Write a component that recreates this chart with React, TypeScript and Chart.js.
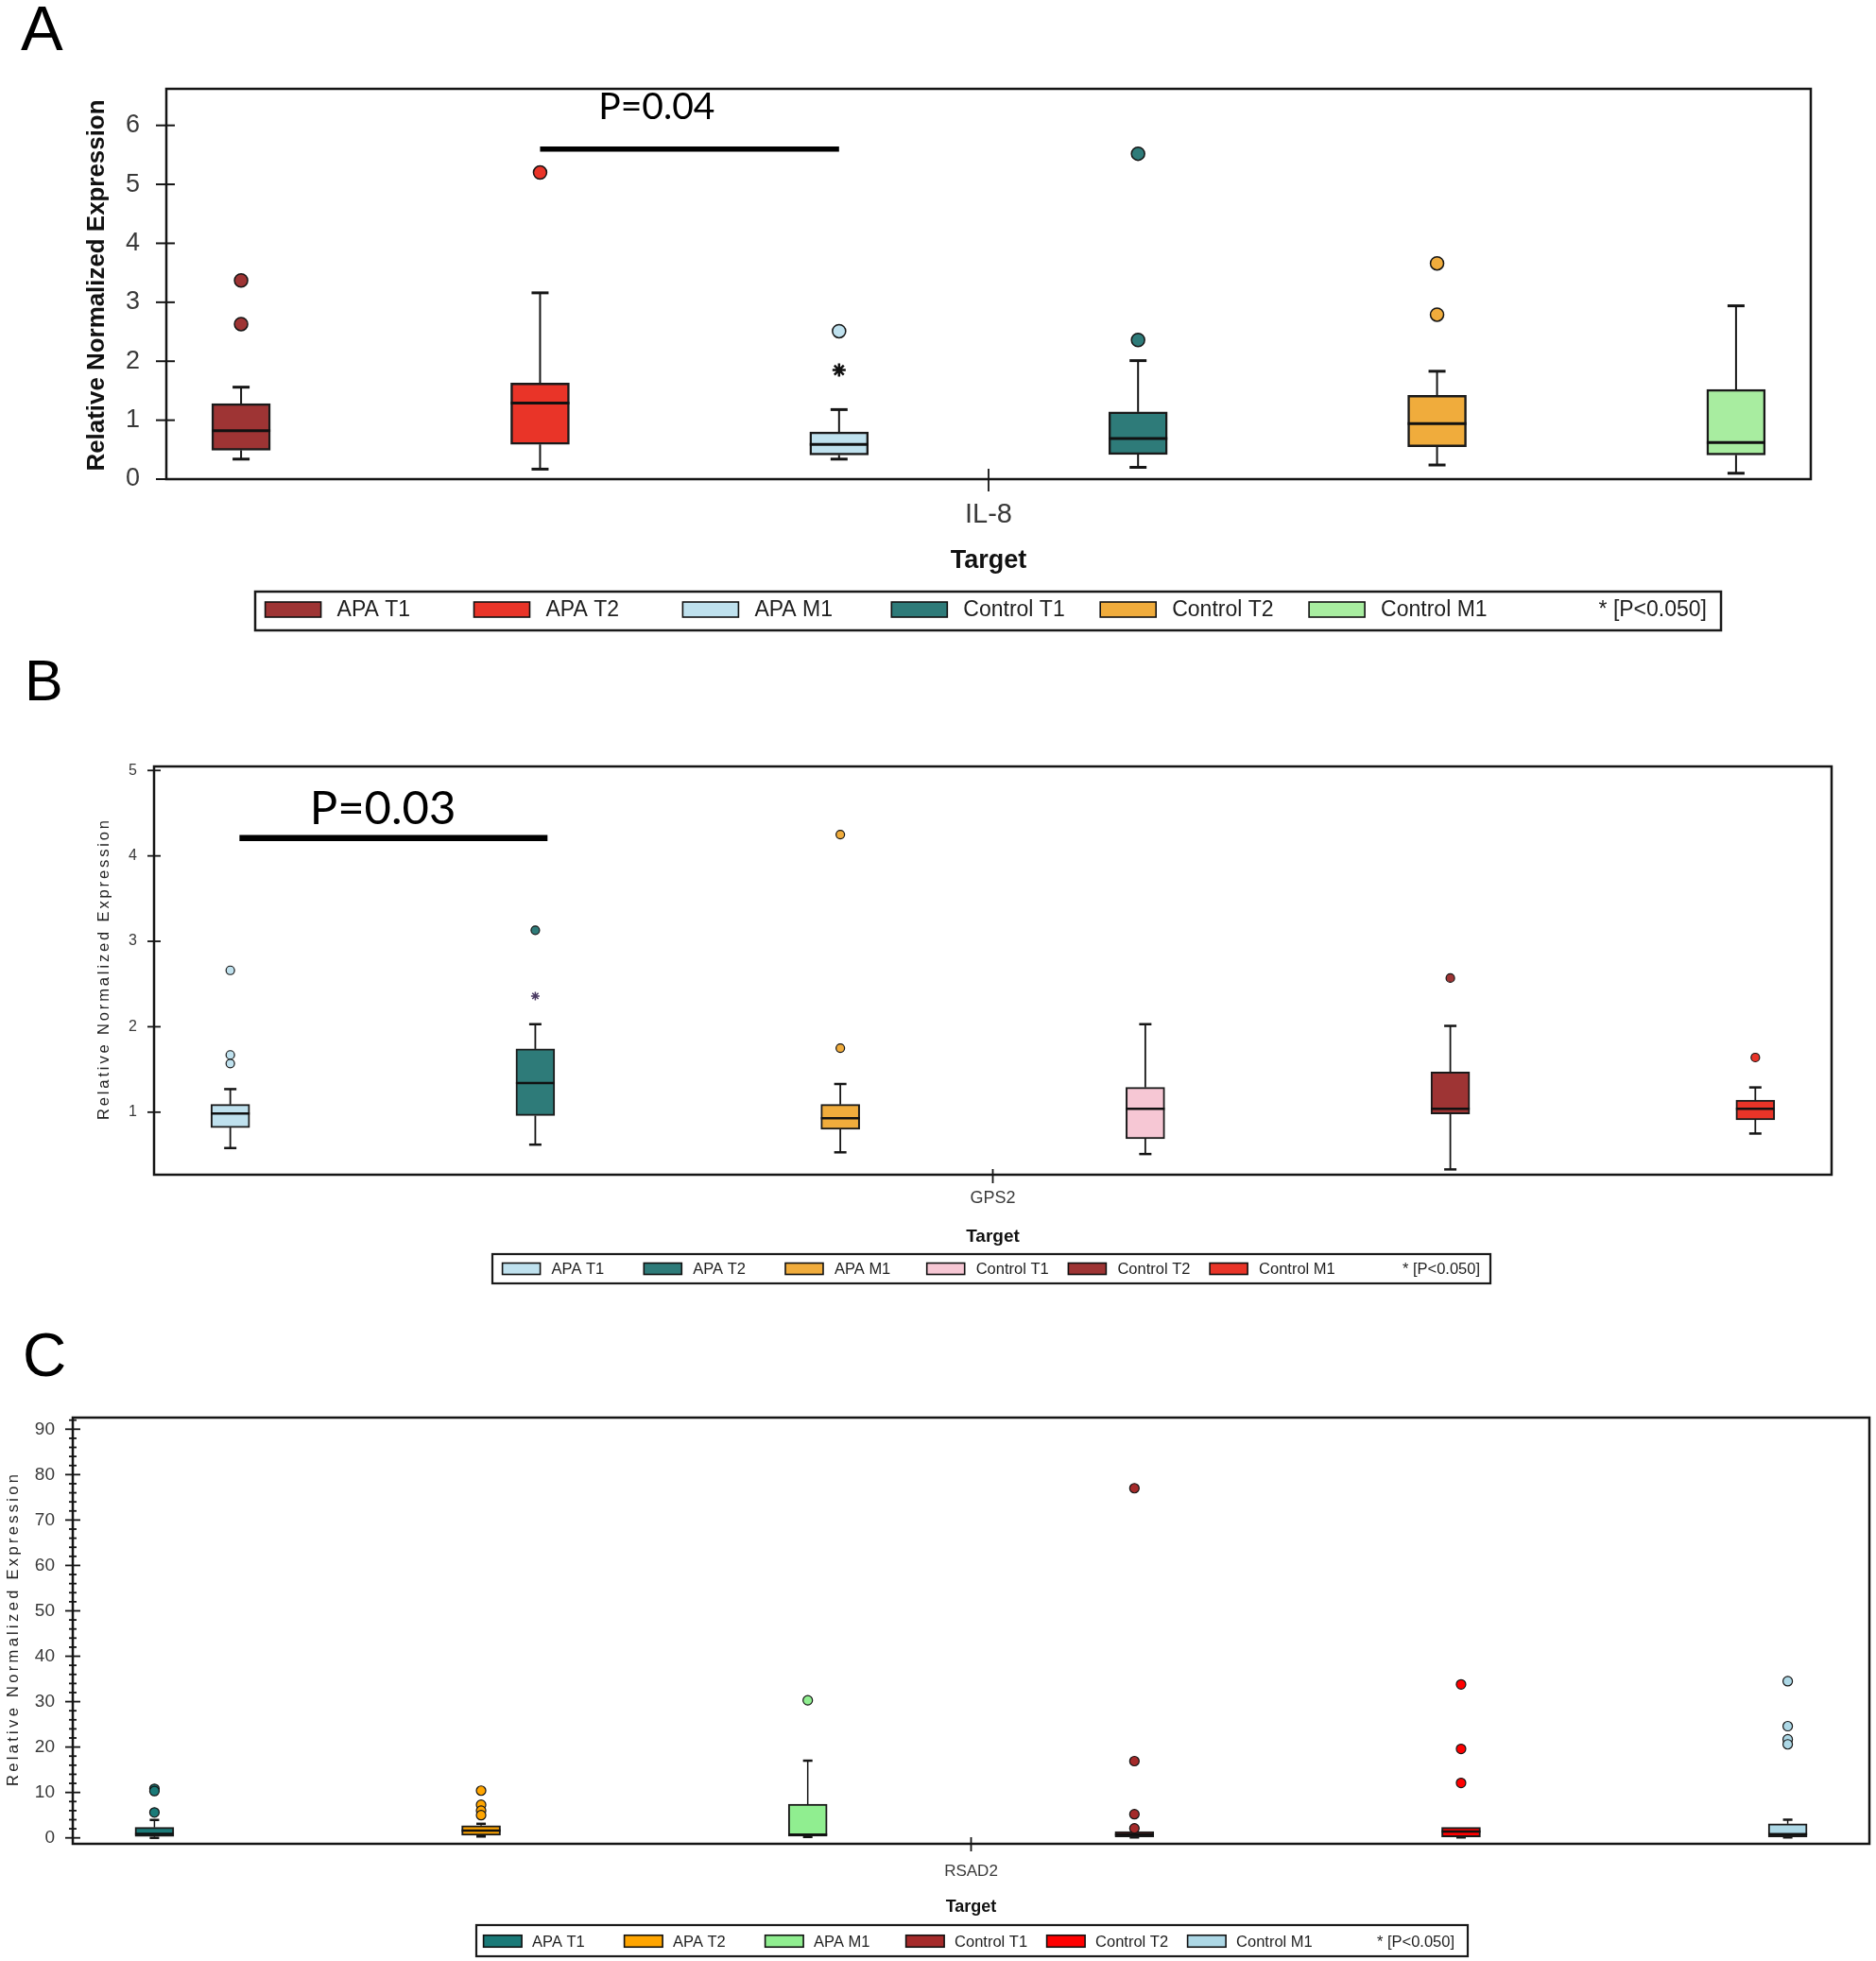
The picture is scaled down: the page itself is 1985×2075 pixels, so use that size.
import React, { useEffect, useRef } from 'react';
import { Chart, registerables } from 'chart.js';

Chart.register(...registerables);

const SANS = "'Liberation Sans', Arial, Helvetica, sans-serif";
const HUMANIST = "Lato, 'Open Sans', sans-serif";
const PAGE_W = 1985;
const PAGE_H = 2075;

Chart.defaults.font.family = SANS;

const LEGEND_NOTE = '* [P<0.050]';
const X_TITLE = 'Target';
const Y_TITLE = 'Relative Normalized Expression';

// ---------- Panel A: IL-8 ----------
const groupsA = ['APA T1', 'APA T2', 'APA M1', 'Control T1', 'Control T2', 'Control M1'];
const colorsA = ['#9E3434', '#E93428', '#BFE1EE', '#2E7B79', '#F0AC3C', '#A8EDA0'];
const q1A = [0.49, 0.59, 0.41, 0.42, 0.55, 0.41];
const medA = [0.82, 1.29, 0.59, 0.69, 0.94, 0.62];
const q3A = [1.28, 1.63, 0.8, 1.14, 1.42, 1.52];
const lowA = [0.34, 0.17, 0.34, 0.2, 0.24, 0.1];
const highA = [1.56, 3.16, 1.18, 2.01, 1.83, 2.94];
const outA = [[3.37, 2.63], [5.2], [2.51], [5.52, 2.36], [3.66, 2.79], []];
const starA = [[], [], [1.85], [], [], []];
const yTicksA = [0, 1, 2, 3, 4, 5, 6];
const yLabelsA = [0, 1, 2, 3, 4, 5, 6];

// ---------- Panel B: GPS2 ----------
const groupsB = ['APA T1', 'APA T2', 'APA M1', 'Control T1', 'Control T2', 'Control M1'];
const colorsB = ['#BFE1EE', '#2E7B79', '#F0AC3C', '#F6C7D4', '#9E3434', '#E93428'];
const q1B = [0.82, 0.96, 0.8, 0.69, 0.98, 0.91];
const medB = [0.985, 1.34, 0.93, 1.04, 1.04, 1.04];
const q3B = [1.09, 1.74, 1.09, 1.29, 1.47, 1.14];
const lowB = [0.58, 0.62, 0.53, 0.51, 0.33, 0.75];
const highB = [1.27, 2.03, 1.33, 2.03, 2.01, 1.29];
const outB = [[2.66, 1.67, 1.57], [3.13], [4.25, 1.75], [], [2.57], [1.64]];
const starB = [[], [2.36], [], [], [], []];
const yTicksB = [1, 2, 3, 4, 5];
const yLabelsB = [1, 2, 3, 4, 5];

// ---------- Panel C: RSAD2 ----------
const groupsC = ['APA T1', 'APA T2', 'APA M1', 'Control T1', 'Control T2', 'Control M1'];
const colorsC = ['#1A7A78', '#FFA500', '#90EE90', '#A52A2A', '#FF0000', '#ADD8E6'];
const q1C = [0.3, 0.6, 0.35, 0.2, 0.2, 0.2];
const medC = [0.9, 1.6, 0.7, 0.7, 1.4, 0.8];
const q3C = [2.3, 2.7, 7.4, 1.4, 2.3, 3.1];
const lowC = [0.0, 0.3, 0.2, 0.1, 0.1, 0.1];
const highC = [3.95, 3.1, 17.0, 1.4, 2.3, 4.0];
const outC = [[10.8, 10.3, 5.6], [10.4, 7.3, 6.0, 5.0], [30.3], [77.0, 16.9, 5.2, 2.1], [33.8, 19.6, 12.1], [34.5, 24.6, 21.7, 20.6]];
const starC = [[], [], [], [], [], []];
const yMinorStepC = 2;
const yTicksC = Array.from({ length: 47 }, (_, i) => i * yMinorStepC);
const yLabelsC = [0, 10, 20, 30, 40, 50, 60, 70, 80, 90];

type Stats = {
  groups: string[]; colors: string[];
  q1: number[]; med: number[]; q3: number[]; low: number[]; high: number[];
  out: number[][]; star: number[][];
};

type Spec = {
  letter: string; target: string; stats: Stats;
  yMin: number; yMax: number; yTicks: number[]; yLabels: number[];
  p?: { text: string; from: number; to: number; y: number; tx: number; ty: number; size: number; lw: number };
  top: number; height: number;
  area: { l: number; r: number; t: number; b: number };
  tickFont: number; tickPad: number; tickMajor: [number, number]; tickMinor: [number, number]; tickLW: number;
  xTick: [number, number];
  xLabel: { y: number; size: number };
  xTitle: { y: number; size: number };
  yTitle: { x: number; y: number; len: number; size: number; bold: boolean };
  legend: { x0: number; y0: number; x1: number; y1: number; sw0: number; step: number; sw: number; sh: number; cy: number; textOff: number; size: number; end: number; lw: number };
  letterPos: { x: number; y: number; size: number };
  box: { w: number; cap: number; medLW: number; whiskLW: number; capLW: number; lw: number; ptR: number; ptLW: number; starR: number; starLW: number; starColor: string };
  frameLW: number;
};

const X_PAD = 0.25;

const specA: Spec = {
  letter: 'A', target: 'IL-8',
  stats: { groups: groupsA, colors: colorsA, q1: q1A, med: medA, q3: q3A, low: lowA, high: highA, out: outA, star: starA },
  yMin: 0, yMax: 6.62, yTicks: yTicksA, yLabels: yLabelsA,
  p: { text: 'P=0.04', from: 1, to: 2, y: 5.6, tx: 1.39, ty: 6.1, size: 39, lw: 5.5 },
  top: 0, height: 690,
  area: { l: 176, r: 1916, t: 94, b: 507 },
  tickFont: 27, tickPad: 28, tickMajor: [11, 9], tickMinor: [11, 9], tickLW: 2,
  xTick: [11, 13],
  xLabel: { y: 545, size: 29 },
  xTitle: { y: 594, size: 27 },
  yTitle: { x: 103, y: 302, len: 393, size: 25, bold: true },
  legend: { x0: 270, y0: 626, x1: 1821, y1: 667, sw0: 280.6, step: 220.9, sw: 59, sh: 16, cy: 645, textOff: 76, size: 23, end: 1806, lw: 2.5 },
  letterPos: { x: 22, y: 53, size: 67 },
  box: { w: 62, cap: 18, medLW: 3, whiskLW: 2, capLW: 3, lw: 2.5, ptR: 7, ptLW: 1.5, starR: 7, starLW: 2.5, starColor: '#111111' },
  frameLW: 2.5,
};

const specB: Spec = {
  letter: 'B', target: 'GPS2',
  stats: { groups: groupsB, colors: colorsB, q1: q1B, med: medB, q3: q3B, low: lowB, high: highB, out: outB, star: starB },
  yMin: 0.268, yMax: 5.047, yTicks: yTicksB, yLabels: yLabelsB,
  p: { text: 'P=0.03', from: 0.03, to: 1.04, y: 4.21, tx: 0.5, ty: 4.37, size: 49, lw: 6.5 },
  top: 690, height: 690,
  area: { l: 163, r: 1938, t: 121, b: 553 },
  tickFont: 16, tickPad: 18, tickMajor: [7, 7], tickMinor: [7, 7], tickLW: 1.8,
  xTick: [6, 9],
  xLabel: { y: 578, size: 18 },
  xTitle: { y: 619, size: 19 },
  yTitle: { x: 110.5, y: 336.5, len: 317, size: 16.5, bold: false },
  legend: { x0: 521, y0: 637, x1: 1577, y1: 668, sw0: 531.6, step: 149.7, sw: 40, sh: 12, cy: 652.5, textOff: 52, size: 16.5, end: 1566, lw: 2.2 },
  letterPos: { x: 26, y: 51, size: 61 },
  box: { w: 41, cap: 13, medLW: 2.5, whiskLW: 1.8, capLW: 2.5, lw: 2, ptR: 4.5, ptLW: 1.2, starR: 4.5, starLW: 1.5, starColor: '#4B3B63' },
  frameLW: 2.5,
};

const specC: Spec = {
  letter: 'C', target: 'RSAD2',
  stats: { groups: groupsC, colors: colorsC, q1: q1C, med: medC, q3: q3C, low: lowC, high: highC, out: outC, star: starC },
  yMin: -1.31, yMax: 92.56, yTicks: yTicksC, yLabels: yLabelsC,
  top: 1380, height: 695,
  area: { l: 77, r: 1978, t: 120, b: 571 },
  tickFont: 19, tickPad: 19, tickMajor: [8, 8], tickMinor: [4, 4], tickLW: 1.8,
  xTick: [7, 8],
  xLabel: { y: 600, size: 17 },
  xTitle: { y: 638, size: 18 },
  yTitle: { x: 14.5, y: 345, len: 330, size: 16.5, bold: false },
  legend: { x0: 504, y0: 657, x1: 1553, y1: 690, sw0: 511.6, step: 149, sw: 40.5, sh: 12.5, cy: 674, textOff: 51.5, size: 16.5, end: 1539, lw: 2.2 },
  letterPos: { x: 24, y: 76, size: 64 },
  box: { w: 41, cap: 10, medLW: 2.5, whiskLW: 1.5, capLW: 2.5, lw: 2, ptR: 5, ptLW: 1.2, starR: 5, starLW: 1.5, starColor: '#111111' },
  frameLW: 2.5,
};

// Text scaled to span a given length (used for the rotated bold axis title).
function drawFitted(ctx: CanvasRenderingContext2D, text: string, cx: number, cy: number, font: string, len: number, rot: number, color: string) {
  ctx.save();
  ctx.font = font;
  const w = ctx.measureText(text).width;
  ctx.translate(cx, cy);
  ctx.rotate(rot);
  ctx.scale(len / w, 1);
  ctx.textAlign = 'center';
  ctx.textBaseline = 'middle';
  ctx.fillStyle = color;
  ctx.fillText(text, 0, 0);
  ctx.restore();
}

// Letter-spaced text spread over a given length.
function drawSpaced(ctx: CanvasRenderingContext2D, text: string, cx: number, cy: number, font: string, len: number, rot: number, color: string) {
  ctx.save();
  ctx.font = font;
  const chars = Array.from(text);
  const ws = chars.map((c) => ctx.measureText(c).width);
  const total = ws.reduce((a, b) => a + b, 0);
  const gap = (len - total) / (chars.length - 1);
  ctx.translate(cx, cy);
  ctx.rotate(rot);
  ctx.textAlign = 'left';
  ctx.textBaseline = 'middle';
  ctx.fillStyle = color;
  let x = -len / 2;
  chars.forEach((c, i) => {
    ctx.fillText(c, x, 0);
    x += ws[i] + gap;
  });
  ctx.restore();
}

function decor(s: Spec) {
  const st = s.stats;
  return {
    id: 'boxDecor' + s.letter,
    beforeDatasetsDraw(chart: any) {
      const { ctx } = chart;
      const xs = chart.scales.x;
      const ys = chart.scales.y;
      ctx.save();
      ctx.strokeStyle = '#151515';
      st.groups.forEach((_, i) => {
        const px = xs.getPixelForValue(i);
        const seg = (from: number, to: number) => {
          if (to === from) return;
          const a = ys.getPixelForValue(from);
          const b = ys.getPixelForValue(to);
          ctx.lineWidth = s.box.whiskLW;
          ctx.beginPath();
          ctx.moveTo(px, a);
          ctx.lineTo(px, b);
          ctx.stroke();
          ctx.lineWidth = s.box.capLW;
          ctx.beginPath();
          ctx.moveTo(px - s.box.cap / 2, b);
          ctx.lineTo(px + s.box.cap / 2, b);
          ctx.stroke();
        };
        seg(st.q3[i], st.high[i]);
        seg(st.q1[i], st.low[i]);
      });
      ctx.restore();
    },
    afterDatasetDraw(chart: any, args: any) {
      if (args.meta.type !== 'bar') return;
      const { ctx } = chart;
      const xs = chart.scales.x;
      const ys = chart.scales.y;
      ctx.save();
      ctx.strokeStyle = '#111111';
      ctx.lineWidth = s.box.medLW;
      st.med.forEach((m, i) => {
        const px = xs.getPixelForValue(i);
        const py = ys.getPixelForValue(m);
        ctx.beginPath();
        ctx.moveTo(px - s.box.w / 2, py);
        ctx.lineTo(px + s.box.w / 2, py);
        ctx.stroke();
      });
      ctx.restore();
    },
    afterDraw(chart: any) {
      const { ctx, chartArea: ca } = chart;
      const xs = chart.scales.x;
      const ys = chart.scales.y;
      ctx.save();
      // frame
      ctx.strokeStyle = '#151515';
      ctx.lineWidth = s.frameLW;
      ctx.strokeRect(ca.left, ca.top, ca.right - ca.left, ca.bottom - ca.top);
      // y tick marks across the axis
      ctx.lineWidth = s.tickLW;
      ys.ticks.forEach((t: any) => {
        const py = ys.getPixelForValue(t.value);
        const major = s.yLabels.includes(t.value);
        const [o, inn] = major ? s.tickMajor : s.tickMinor;
        ctx.beginPath();
        ctx.moveTo(ca.left - o, py);
        ctx.lineTo(ca.left + inn, py);
        ctx.stroke();
      });
      // single category tick
      const cx = xs.getPixelForValue((st.groups.length - 1) / 2);
      ctx.lineWidth = 1.8;
      ctx.beginPath();
      ctx.moveTo(cx, ca.bottom - s.xTick[0]);
      ctx.lineTo(cx, ca.bottom + s.xTick[1]);
      ctx.stroke();

      // category label and axis titles
      ctx.textAlign = 'center';
      ctx.textBaseline = 'middle';
      ctx.fillStyle = '#3a3a3a';
      ctx.font = `${s.xLabel.size}px ${SANS}`;
      ctx.fillText(s.target, cx, s.xLabel.y);
      ctx.fillStyle = '#111111';
      ctx.font = `bold ${s.xTitle.size}px ${SANS}`;
      ctx.fillText(X_TITLE, cx, s.xTitle.y);

      if (s.yTitle.bold) {
        drawFitted(ctx, Y_TITLE, s.yTitle.x, s.yTitle.y, `bold ${s.yTitle.size}px ${SANS}`, s.yTitle.len, -Math.PI / 2, '#111111');
      } else {
        drawSpaced(ctx, Y_TITLE, s.yTitle.x, s.yTitle.y, `${s.yTitle.size}px ${SANS}`, s.yTitle.len, -Math.PI / 2, '#222222');
      }

      // legend
      const L = s.legend;
      ctx.fillStyle = '#ffffff';
      ctx.fillRect(L.x0, L.y0, L.x1 - L.x0, L.y1 - L.y0);
      ctx.strokeStyle = '#1a1a1a';
      ctx.lineWidth = L.lw;
      ctx.strokeRect(L.x0, L.y0, L.x1 - L.x0, L.y1 - L.y0);
      ctx.font = `${L.size}px ${SANS}`;
      ctx.textBaseline = 'middle';
      st.groups.forEach((g, i) => {
        const sx = L.sw0 + i * L.step;
        ctx.fillStyle = st.colors[i];
        ctx.fillRect(sx, L.cy - L.sh / 2, L.sw, L.sh);
        ctx.strokeStyle = '#111111';
        ctx.lineWidth = 1.6;
        ctx.strokeRect(sx, L.cy - L.sh / 2, L.sw, L.sh);
        ctx.fillStyle = '#1e1e1e';
        ctx.textAlign = 'left';
        ctx.fillText(g, sx + L.textOff, L.cy + 1);
      });
      ctx.textAlign = 'right';
      ctx.fillText(LEGEND_NOTE, L.end, L.cy + 1);

      // significance bracket
      if (s.p) {
        const p = s.p;
        const y = ys.getPixelForValue(p.y);
        ctx.strokeStyle = '#000000';
        ctx.lineWidth = p.lw;
        ctx.beginPath();
        ctx.moveTo(xs.getPixelForValue(p.from), y);
        ctx.lineTo(xs.getPixelForValue(p.to), y);
        ctx.stroke();
        ctx.fillStyle = '#000000';
        ctx.font = `${p.size}px ${HUMANIST}`;
        ctx.textAlign = 'center';
        ctx.textBaseline = 'alphabetic';
        ctx.fillText(p.text, xs.getPixelForValue(p.tx), ys.getPixelForValue(p.ty));
      }

      // panel letter
      ctx.fillStyle = '#000000';
      ctx.font = `${s.letterPos.size}px ${SANS}`;
      ctx.textAlign = 'left';
      ctx.textBaseline = 'alphabetic';
      ctx.fillText(s.letter, s.letterPos.x, s.letterPos.y);
      ctx.restore();
    },
  };
}

function BoxPanel({ spec }: { spec: Spec }) {
  const ref = useRef<HTMLCanvasElement>(null);
  useEffect(() => {
    const s = spec;
    const st = s.stats;
    const n = st.groups.length;
    const boxes = st.q1.map((q, i) => ({ x: i, y: [q, st.q3[i]] }));
    const outPts = st.out.flatMap((vals, i) => vals.map((v) => ({ x: i, y: v })));
    const outCols = st.out.flatMap((vals, i) => vals.map(() => st.colors[i]));
    const starPts = st.star.flatMap((vals, i) => vals.map((v) => ({ x: i, y: v })));
    const H = s.height;
    const chart = new Chart(ref.current as HTMLCanvasElement, {
      type: 'bar',
      data: {
        datasets: [
          {
            type: 'scatter', data: starPts, pointStyle: 'star',
            pointRadius: s.box.starR, pointBorderWidth: s.box.starLW,
            pointBorderColor: s.box.starColor, pointBackgroundColor: s.box.starColor,
          } as any,
          {
            type: 'scatter', data: outPts, pointStyle: 'circle',
            pointRadius: s.box.ptR, pointBorderWidth: s.box.ptLW,
            pointBorderColor: '#151515', pointBackgroundColor: outCols,
          } as any,
          {
            type: 'bar', data: boxes, backgroundColor: st.colors,
            borderColor: '#1a1a1a', borderWidth: s.box.lw, borderSkipped: false,
            barThickness: s.box.w,
          } as any,
        ],
      },
      options: {
        responsive: false,
        animation: false,
        events: [],
        layout: { padding: { left: 0, top: s.area.t, right: PAGE_W - s.area.r, bottom: H - s.area.b } },
        plugins: { legend: { display: false }, tooltip: { enabled: false } },
        scales: {
          x: { type: 'linear', display: false, min: -X_PAD, max: n - 1 + X_PAD, offset: false },
          y: {
            type: 'linear', min: s.yMin, max: s.yMax, bounds: 'data',
            afterFit: (sc: any) => { sc.width = s.area.l; },
            afterBuildTicks: (sc: any) => { sc.ticks = s.yTicks.map((v) => ({ value: v })); },
            grid: { display: false, drawTicks: false },
            border: { display: false },
            ticks: {
              autoSkip: false, padding: s.tickPad, color: '#3a3a3a',
              font: { family: SANS, size: s.tickFont },
              callback: (v: any) => (s.yLabels.includes(Number(v)) ? String(v) : ''),
            },
          },
        },
      } as any,
      plugins: [decor(s) as any],
    });
    return () => chart.destroy();
  }, [spec]);
  return (
    <canvas
      ref={ref}
      width={PAGE_W}
      height={spec.height}
      style={{ position: 'absolute', left: 0, top: spec.top, width: PAGE_W, height: spec.height, display: 'block' }}
    />
  );
}

export default function App() {
  return (
    <div style={{ position: 'absolute', left: 0, top: 0, width: PAGE_W, height: PAGE_H, background: '#ffffff', overflow: 'hidden' }}>
      <BoxPanel spec={specA} />
      <BoxPanel spec={specB} />
      <BoxPanel spec={specC} />
    </div>
  );
}
